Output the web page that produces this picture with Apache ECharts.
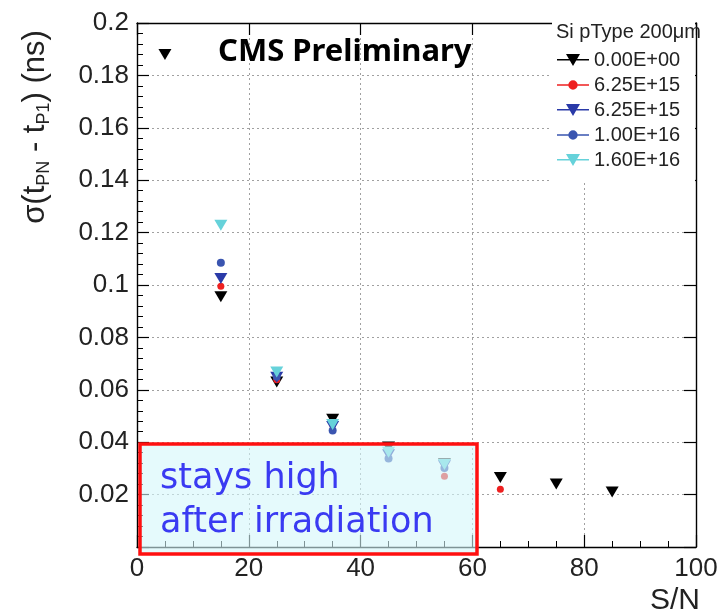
<!DOCTYPE html>
<html>
<head>
<meta charset="utf-8">
<script src="https://cdn.jsdelivr.net/npm/echarts@6/dist/echarts.min.js"></script>
<style>html,body{margin:0;padding:0;background:#fff}#c{width:723px;height:616px}</style>
</head>
<body>
<div id="c"></div>
<script>
// ---- data ----
const seriesNames = ['0.00E+00', '6.25E+15', '6.25E+15 ', '1.00E+16', '1.60E+16'];
const fluence0   = [[5,0.188],[15,0.0955],[25,0.063],[35,0.0488],[45,0.0382],[55,0.0318],[65,0.0265],[75,0.024],[85,0.021]];
const fluence625a = [[15,0.0995],[25,0.0638],[35,0.0468],[45,0.0368],[55,0.027],[65,0.022]];
const fluence625b = [[15,0.1025],[25,0.0648],[35,0.046],[45,0.0352],[55,0.031]];
const fluence100 = [[15,0.1085],[25,0.065],[35,0.0445],[45,0.0338],[55,0.0302]];
const fluence160 = [[15,0.1228],[25,0.0668],[35,0.0468],[45,0.0362],[55,0.0315]];
const xTicks = [0, 20, 40, 60, 80, 100];
const yTicks = [0, 0.02, 0.04, 0.06, 0.08, 0.1, 0.12, 0.14, 0.16, 0.18, 0.2];

const chart = echarts.init(document.getElementById('c'));
const F = 'Liberation Sans, Arial, sans-serif';
const T = () => ({show:true, inside:true, length:12, lineStyle:{color:'#000', width:1.2}});
const M = (n) => ({show:true, splitNumber:n, length:6});
const L = () => ({show:true, onZero:false, lineStyle:{color:'#000', width:1.4}});
const SL = () => ({show:true, lineStyle:{color:'#a0a0a0', type:[2,3], width:1}});

const TRI = 'path://M0,7h32v1.4H0z M9,2h14l-7,12z';
const CIR = 'path://M0,7h32v1.4H0z M16,3a4.7,4.7 0 1,1 -0.01,0z';

const mk = (name, data, symbol, size, color, rot) => ({
  name, type:'scatter', data, symbol, symbolSize:size, symbolRotate:rot,
  itemStyle:{color, opacity:1}, z:2
});

chart.setOption({
  animation:false,
  backgroundColor:'#fff',
  textStyle:{fontFamily:F},
  grid:{left:137, right:27, top:23, bottom:69},
  xAxis:[
    {type:'value', min:xTicks[0], max:xTicks[xTicks.length-1], interval:20, position:'bottom',
     axisLine:L(), axisTick:T(), minorTick:M(4),
     axisLabel:{fontSize:26, color:'#222', margin:9},
     splitLine:SL()},
    {type:'value', min:0, max:100, interval:20, position:'top',
     axisLine:L(), axisTick:T(),
     axisLabel:{show:false}, splitLine:{show:false}}
  ],
  yAxis:[
    {type:'value', min:yTicks[0], max:yTicks[yTicks.length-1], interval:0.02, position:'left',
     axisLine:L(), axisTick:T(), minorTick:M(5),
     axisLabel:{fontSize:26, color:'#222', margin:8, showMinLabel:false},
     splitLine:SL()},
    {type:'value', min:0, max:0.2, interval:0.02, position:'right',
     axisLine:L(), axisTick:T(),
     axisLabel:{show:false}, splitLine:{show:false}}
  ],
  legend:{
    orient:'vertical', left:557, top:50, itemWidth:32, itemHeight:15, itemGap:5, padding:0,
    z:6, selectedMode:false,
    textStyle:{fontSize:20, color:'#222'},
    formatter: n => n.trim(),
    data: [
      {name:seriesNames[0], icon:TRI},
      {name:seriesNames[1], icon:CIR},
      {name:seriesNames[2], icon:TRI},
      {name:seriesNames[3], icon:CIR},
      {name:seriesNames[4], icon:TRI}
    ]
  },
  series:[
    mk(seriesNames[0], fluence0, 'triangle', [13,11], '#000000', 180),
    mk(seriesNames[1], fluence625a, 'circle', 7, '#ee2020', 0),
    mk(seriesNames[2], fluence625b, 'triangle', [13,11], '#2a3aa8', 180),
    mk(seriesNames[3], fluence100, 'circle', 8, '#3a55b0', 0),
    mk(seriesNames[4], fluence160, 'triangle', [13,11], '#66d2da', 180)
  ],
  graphic:[
    {type:'rect', z:5, silent:true, shape:{x:552, y:0, width:143, height:183}, style:{fill:'#fff'}},
    {type:'text', z:7, left:556, top:22, style:{text:'Si pType 200μm', font:'20px Liberation Sans', fill:'#222'}},
    {type:'rect', z:5, silent:true, shape:{x:140, y:444, width:337, height:110},
     style:{fill:'rgba(212,246,250,0.6)', stroke:'#ff1010', lineWidth:3.5}},
    {type:'text', z:7, left:160, top:461, style:{text:'stays high', font:'35px "Comic Sans MS", "DejaVu Sans", sans-serif', fill:'#3a3af2'}},
    {type:'text', z:7, left:160, top:505, style:{text:'after irradiation', font:'35px "Comic Sans MS", "DejaVu Sans", sans-serif', fill:'#3a3af2'}},
    {type:'text', z:7, left:218, top:37, style:{text:'CMS Preliminary', font:'bold 31px "Noto Sans", "Open Sans", sans-serif', fill:'#000'}},
    {type:'text', z:7, right:23, top:586, style:{text:'S/N', font:'30px Liberation Sans', fill:'#222'}},
    {type:'text', z:7, x:35, y:127, rotation:Math.PI/2,
     style:{text:'{m|σ(t}{s|PN}{m| - t}{s|P1}{m|) (ns)}', align:'center', verticalAlign:'middle',
       rich:{m:{font:'31px Liberation Sans', fill:'#222', lineHeight:36, verticalAlign:'middle'},
             s:{font:'18px Liberation Sans', fill:'#222', lineHeight:36, verticalAlign:'bottom', padding:[12,0,0,0]}}}}
  ]
});
</script>
</body>
</html>
